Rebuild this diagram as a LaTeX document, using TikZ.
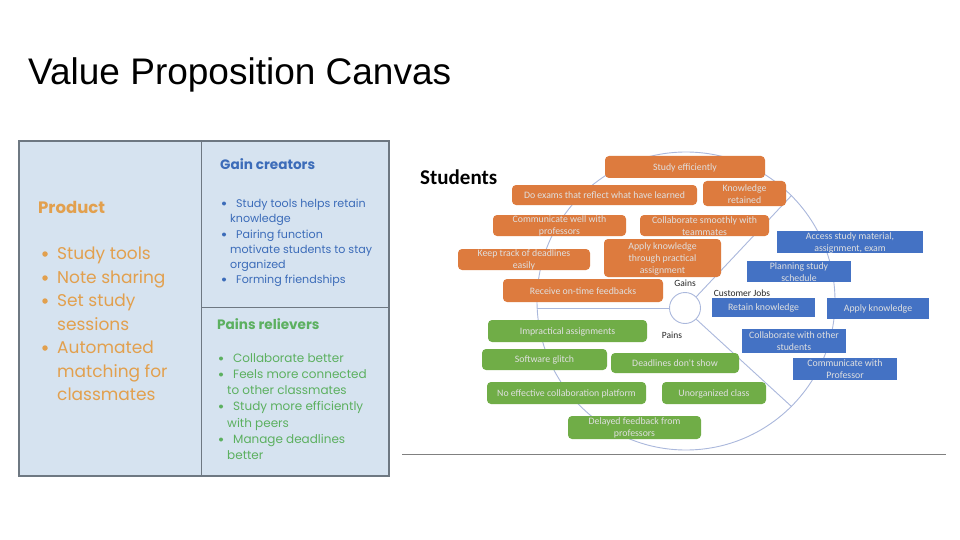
\documentclass[tikz,border=0pt]{standalone}
\usepackage{fontspec}
\setmainfont{Liberation Sans}
\newfontfamily\gothic{Poppins}
\newfontfamily\calfont{Carlito}
\definecolor{panelfill}{RGB}{214,227,240}
\definecolor{panelline}{RGB}{110,120,130}
\definecolor{prodorange}{RGB}{226,160,78}
\definecolor{gainblue}{RGB}{60,108,185}
\definecolor{paingreen}{RGB}{92,176,96}
\definecolor{boxorange}{RGB}{221,123,62}
\definecolor{boxblue}{RGB}{68,114,196}
\definecolor{boxgreen}{RGB}{112,173,71}
\definecolor{ringcol}{RGB}{170,184,220}
\tikzset{
  panel/.style={draw=panelline, line width=1.2pt, fill=panelfill},
  divider/.style={draw=panelline, line width=1pt},
  ptext/.style={anchor=base west, inner sep=0pt, text=prodorange, font=\gothic\fontsize{17}{20}\selectfont},
  gtext/.style={anchor=base west, inner sep=0pt, text=gainblue, font=\gothic\fontsize{11.1}{14}\selectfont},
  rtext/.style={anchor=base west, inner sep=0pt, text=paingreen, font=\gothic\fontsize{12}{14}\selectfont},
  dot/.style={circle, inner sep=0pt, minimum size=#1},
  dot/.default=4pt,
  ring/.style={draw=ringcol, line width=0.9pt},
  obox/.style={fill=boxorange, rounded corners=4pt},
  bbox/.style={fill=boxblue},
  gbox/.style={fill=boxgreen, rounded corners=4pt},
  btext/.style={align=center, inner sep=0pt, text=white!88!black, font=\calfont\fontsize{9.8}{12}\selectfont},
  lbl/.style={inner sep=0pt, text=black!85, font=\calfont\fontsize{9.5}{12}\selectfont},
}
\newcommand\tbox[7]{%
  \path[#1] (#3,#4) rectangle (#5,#6);
  \node[btext] (#2) at ({(#3+#5)/2},{(#4+#6)/2+0.5}) {#7};}
\begin{document}
\begin{tikzpicture}[x=1pt,y=-1pt]
\useasboundingbox[fill=white] (0,0) rectangle (960,540);
% title
\node[anchor=base west, inner sep=0pt, font=\fontsize{37}{40}\selectfont] (title) at (28,85) {Value Proposition Canvas};
% left panel
\path[panel] (19,141) rectangle (389,476);
\coordinate (vtop) at (201,141);
\coordinate (vbot) at (201,476);
\coordinate (hl) at (201,307);
\coordinate (hr) at (389,307);
\draw[divider] (vtop) -- (vbot);
\draw[divider] (hl) -- (hr);
% product
\node[ptext, font=\gothic\bfseries\fontsize{16.5}{20}\selectfont] (prod) at (38,213) {Product};
\foreach \y/\t [count=\i] in {259/Study tools,283/Note sharing,306/Set study,353/Automated}{
  \node[dot=5.5pt, fill=prodorange] (pb\i) at (45,\y-5) {};
  \node[ptext] (pt\i) at (57,\y) {\t};
}
\node[ptext] (pc1) at (57,330) {sessions};
\node[ptext] (pc2) at (57,377) {matching for};
\node[ptext] (pc3) at (57,400) {classmates};
% gain creators
\node[gtext, font=\gothic\bfseries\fontsize{13.6}{16}\selectfont] (gain) at (220,170) {Gain creators};
\node[dot, fill=gainblue] (gb1) at (224,203.5) {};
\node[gtext] (g1) at (236,207) {Study tools helps retain};
\node[gtext] (g2) at (230,222) {knowledge};
\node[dot, fill=gainblue] (gb2) at (224,234.5) {};
\node[gtext] (g3) at (236,238) {Pairing function};
\node[gtext] (g4) at (230,253) {motivate students to stay};
\node[gtext] (g5) at (230,268) {organized};
\node[dot, fill=gainblue] (gb3) at (224,279.5) {};
\node[gtext] (g6) at (236,283) {Forming friendships};
% pains relievers
\node[rtext, font=\gothic\bfseries\fontsize{13.6}{16}\selectfont] (pain) at (217,329) {Pains relievers};
\node[dot, fill=paingreen] (rb1) at (221,358.5) {};
\node[rtext] (r1) at (233,362) {Collaborate better};
\node[dot, fill=paingreen] (rb2) at (221,374.5) {};
\node[rtext] (r2) at (233,378) {Feels more connected};
\node[rtext] (r3) at (227,394) {to other classmates};
\node[dot, fill=paingreen] (rb3) at (221,406.5) {};
\node[rtext] (r4) at (233,410) {Study more efficiently};
\node[rtext] (r5) at (227,427) {with peers};
\node[dot, fill=paingreen] (rb4) at (221,439.5) {};
\node[rtext] (r6) at (233,443) {Manage deadlines};
\node[rtext] (r7) at (227,459) {better};
% right side
\node[anchor=base west, inner sep=0pt, font=\calfont\bfseries\fontsize{21}{24}\selectfont] (stud) at (420,184) {Students};
\node[circle, ring, minimum size=298pt, inner sep=0pt] (big) at (686,301) {};
\node[circle, ring, minimum size=31pt, inner sep=0pt] (small) at (685,308) {};
\draw[ring] (small.45) -- (big.45);
\draw[ring] (small.-45) -- (big.-45);
\draw[ring] (small.west) -- (small.west -| big.west);
\coordinate (rl) at (402,454);
\coordinate (rr) at (946,454);
\draw[draw=black!50, line width=1pt] (rl) -- (rr);
% gains (orange)
\tbox{obox}{o1}{605}{156}{765}{178}{Study efficiently}
\tbox{obox}{o2}{512}{185}{697}{205}{Do exams that reflect what have learned}
\tbox{obox}{o3}{703}{181}{786}{206}{Knowledge\\retained}
\tbox{obox}{o4}{493}{215}{626}{236}{Communicate well with\\professors}
\tbox{obox}{o5}{640}{215}{769}{236}{Collaborate smoothly with\\teammates}
\tbox{obox}{o6}{458}{249}{590}{270}{Keep track of deadlines\\easily}
\tbox{obox}{o7}{604}{239}{721}{277}{Apply knowledge\\through practical\\assignment}
\tbox{obox}{o8}{503}{279}{663}{302}{Receive on-time feedbacks}
% customer jobs (blue)
\tbox{bbox}{b1}{777}{231}{923}{253}{Access study material,\\assignment, exam}
\tbox{bbox}{b2}{747}{261}{851}{282}{Planning study\\schedule}
\tbox{bbox}{b3}{712}{298}{815}{317}{Retain knowledge}
\tbox{bbox}{b4}{827}{298}{929}{319}{Apply knowledge}
\tbox{bbox}{b5}{742}{329}{846}{353}{Collaborate with other\\students}
\tbox{bbox}{b6}{793}{358}{897}{380}{Communicate with\\Professor}
% pains (green)
\tbox{gbox}{p1}{488}{320}{647}{342}{Impractical assignments}
\tbox{gbox}{p2}{482}{349}{607}{370}{Software glitch}
\tbox{gbox}{p3}{611}{353}{739}{373}{Deadlines don't show}
\tbox{gbox}{p4}{487}{382}{646}{404}{No effective collaboration platform}
\tbox{gbox}{p5}{662}{382}{766}{404}{Unorganized class}
\tbox{gbox}{p6}{568}{416}{701}{439}{Delayed feedback from\\professors}
% labels
\node[lbl] (lg) at (685,283) {Gains};
\node[lbl] (lc) at (742,293) {Customer Jobs};
\node[lbl] (lp) at (672,335) {Pains};
\end{tikzpicture}
\end{document}
